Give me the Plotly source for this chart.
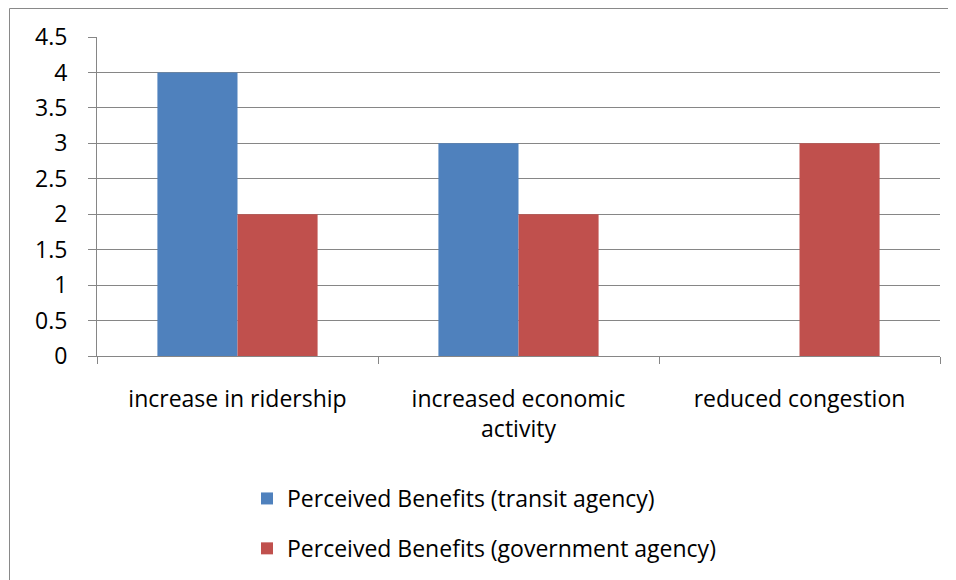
import plotly.graph_objects as go

categories = ["increase in ridership", "increased economic<br>activity", "reduced congestion"]
transit_values = [4, 3, None]
government_values = [2, 2, 3]
series_names = ["Perceived Benefits (transit agency)", "Perceived Benefits (government agency)"]
y_ticks = [0, 0.5, 1, 1.5, 2, 2.5, 3, 3.5, 4, 4.5]
y_tick_labels = ["0", "0.5", "1", "1.5", "2", "2.5", "3", "3.5", "4", "4.5"]

OFF = 8  # page body margin
W, H = 956 - OFF, 580 - OFF
L, T = 97 - OFF, 37 - OFF
R = W - (940 - OFF)
B = H - (356 - OFF)
pw, ph = W - L - R, H - T - B
FS = 23

fig = go.Figure()
fig.add_trace(go.Bar(x=categories, y=transit_values, name=series_names[0],
                     marker=dict(color="#4F81BD", line=dict(width=0)), legendgroup="a"))
fig.add_trace(go.Bar(x=categories, y=government_values, name=series_names[1],
                     marker=dict(color="#C0504D", line=dict(width=0)), legendgroup="b"))

def px2paper_x(px):
    return (px - OFF - L) / pw

def py2paper_y(py):
    return (H - B - (py - OFF)) / ph

fig.add_shape(type="rect", xref="paper", yref="paper",
              x0=px2paper_x(9.5), x1=px2paper_x(990), y0=py2paper_y(8.5), y1=py2paper_y(620),
              line=dict(color="#898989", width=1), fillcolor="rgba(0,0,0,0)", layer="below")

fig.update_layout(
    width=W, height=H,
    margin=dict(l=L, r=R, t=T, b=B, autoexpand=False),
    paper_bgcolor="white", plot_bgcolor="white",
    font=dict(family="Open Sans, sans-serif", size=FS, color="black"),
    barmode="group", bargap=0.43, bargroupgap=0,
    showlegend=True,
    legend=dict(x=px2paper_x(247), y=py2paper_y(477), xanchor="left", yanchor="top",
                orientation="v", traceorder="grouped", tracegroupgap=17,
                font=dict(size=FS), bgcolor="rgba(0,0,0,0)"),
    xaxis=dict(type="category", showline=True, linecolor="#868686", linewidth=1,
               ticks="outside", tickson="boundaries", ticklen=7, tickcolor="#868686",
               showgrid=False, tickfont=dict(size=FS), ticklabelstandoff=22,
               automargin=False),
    yaxis=dict(range=[0, 4.5], tickvals=y_ticks, ticktext=y_tick_labels,
               showline=True, linecolor="#868686", linewidth=1,
               ticks="outside", ticklen=8, tickcolor="#868686",
               showgrid=True, gridcolor="#868686", gridwidth=1, zeroline=False,
               tickfont=dict(size=FS), ticklabelstandoff=16, automargin=False),
)

fig.write_html("out.html")
